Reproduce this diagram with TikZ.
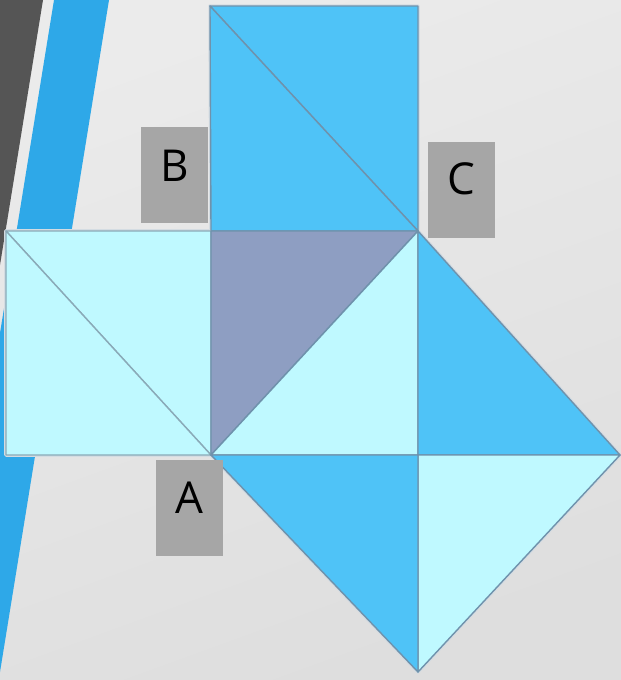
\documentclass[tikz,border=0pt]{standalone}
\usepackage{fontspec}
\setmainfont{Open Sans}
\definecolor{bgtop}{HTML}{EBEBEB}
\definecolor{bgbot}{HTML}{DEDEDE}
\definecolor{darkband}{HTML}{555555}
\definecolor{blueband}{HTML}{2EA8E8}
\definecolor{sqblue}{HTML}{4FC3F7}
\definecolor{sqcyan}{HTML}{BFF9FF}
\definecolor{sqgray}{HTML}{8E9EC2}
\definecolor{edge}{HTML}{6F92AC}
\definecolor{lightedge}{HTML}{8AAAB8}
\definecolor{halo}{HTML}{D4DCE2}
\definecolor{lblgray}{HTML}{A6A6A6}
\tikzset{
  tri/.style={draw=edge, line width=1.4pt, line join=round},
  lighttri/.style={draw=lightedge, line width=1.4pt, line join=round},
  halostyle/.style={draw=halo, line width=3.5pt, line join=round},
  lblbox/.style={fill=lblgray, draw=none, minimum width=67pt, minimum height=96pt, inner sep=0pt},
  lbltext/.style={font=\fontsize{44}{48}\selectfont, text=black, inner sep=0pt},
}
\begin{document}
\begin{tikzpicture}[x=1pt,y=-1pt]
\useasboundingbox (0,0) rectangle (621,680);
% background
\shade[top color=bgtop, bottom color=bgbot, shading angle=20] (0,0) rectangle (621,680);
\fill[darkband] (0,0) -- (43,0) -- (0,265) -- cycle;
\fill[blueband] (54,0) -- (109,0) -- (0,672) -- (0,333) -- cycle;
% key points
\coordinate (TL) at (210,6);
\coordinate (TR) at (418,6);
\coordinate (M) at (211,231);
\coordinate (Q) at (418,231);
\coordinate (L1) at (6,231);
\coordinate (L2) at (6,455);
\coordinate (Apt) at (211,455);
\coordinate (R) at (418,455);
\coordinate (E) at (620,455);
\coordinate (D) at (418,672);
% halos
\draw[halostyle] (TL) -- (TR) -- (Q) -- (M) -- cycle;
\draw[halostyle] (L1) -- (M) -- (Apt) -- (L2) -- cycle;
\draw[halostyle] (Q) -- (E) -- (D) -- (Apt);
% top square
\filldraw[tri, fill=sqblue] (TL) -- (TR) -- (Q) -- cycle;
\filldraw[tri, fill=sqblue] (TL) -- (Q) -- (M) -- cycle;
% left square
\filldraw[lighttri, fill=sqcyan] (L1) -- (M) -- (Apt) -- cycle;
\filldraw[lighttri, fill=sqcyan] (L1) -- (Apt) -- (L2) -- cycle;
% centre square
\filldraw[tri, fill=sqgray] (M) -- (Q) -- (Apt) -- cycle;
\filldraw[tri, fill=sqcyan] (Q) -- (R) -- (Apt) -- cycle;
% diamond
\filldraw[tri, fill=sqblue] (Q) -- (E) -- (R) -- cycle;
\filldraw[tri, fill=sqcyan] (R) -- (E) -- (D) -- cycle;
\filldraw[tri, fill=sqblue] (Apt) -- (R) -- (D) -- cycle;
% labels
\node[lblbox] (boxB) at (174.5,175) {};
\node[lbltext] (B) at ([yshift=9pt]boxB.center) {B};
\node[lblbox] (boxC) at (461.5,190) {};
\node[lbltext] (C) at ([yshift=11pt]boxC.center) {C};
\node[lblbox] (boxA) at (189.5,507.5) {};
\node[lbltext] (A) at ([yshift=10pt]boxA.center) {A};
\end{tikzpicture}
\end{document}
